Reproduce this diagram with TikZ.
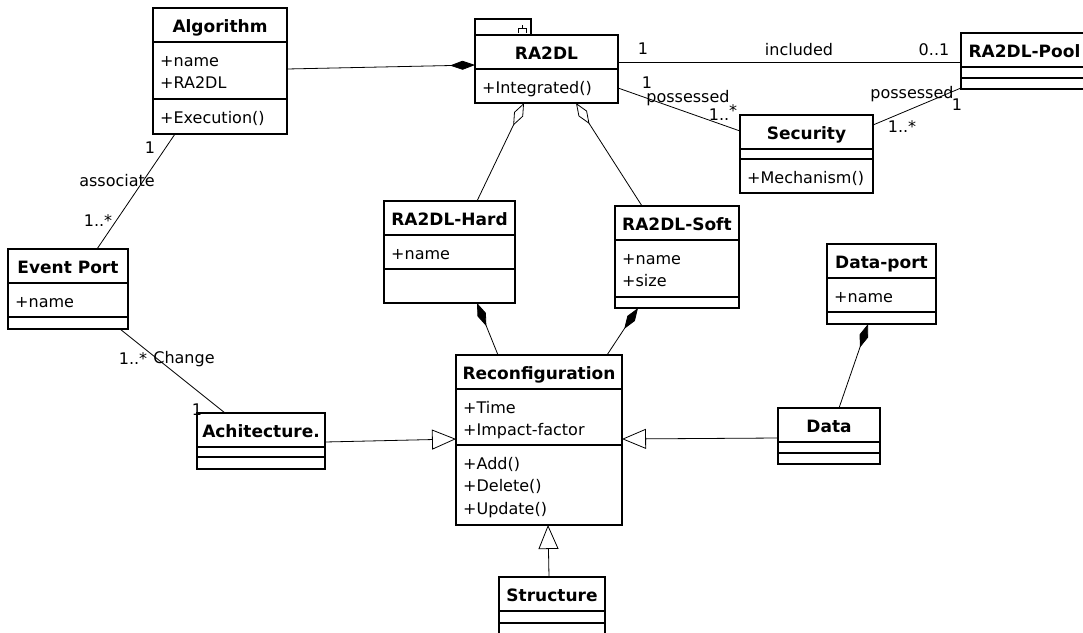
\documentclass[tikz,border=0pt]{standalone}
\usepackage{fontspec}
\setmainfont{DejaVu Sans}
\usetikzlibrary{calc,arrows.meta}
\tikzset{
  classbox/.style={draw, line width=1.1pt, rectangle, anchor=north west, inner sep=0pt, outer sep=0pt},
  classline/.style={line width=1.1pt},
  classtitle/.style={anchor=base, inner sep=0pt, font=\fontsize{17}{20}\selectfont\bfseries},
  classtext/.style={anchor=base west, inner sep=0pt, align=left, font=\fontsize{16}{22.5}\selectfont},
  conn/.style={line width=0.8pt},
  compo/.style={-{Diamond[length=25pt,width=9pt]}},
  aggr/.style={-{Diamond[open,length=25pt,width=10pt]}},
  gen/.style={-{Triangle[open,length=24pt,width=20pt]}},
  mult/.style={inner sep=0pt, font=\fontsize{16}{19}\selectfont},
}
\def\umlclass(#1)(#2)(#3:#4:#5)#6#7#8{%
  \node[classbox, minimum width=#3, minimum height={34+#4+#5}] (#1) at (#2) {};
  \draw[classline] ($(#1.north west)+(0,34)$) -- ($(#1.north east)+(0,34)$);
  \draw[classline] ($(#1.north west)+(0,34+#4)$) -- ($(#1.north east)+(0,34+#4)$);
  \node[classtitle] (#1-name) at ($(#1.north)+(0,24)$) {#6};
  \node[classtext, text width={#3-10}] (#1-attr) at ($(#1.north west)+(7,58)$) {#7};
  \node[classtext, text width={#3-10}] (#1-ops) at ($(#1.north west)+(7,58+#4)$) {#8};
}

\begin{document}
\begin{tikzpicture}[x=1pt, y=-1pt]
		%%%%% START %%%%%
		\useasboundingbox (0,0) rectangle (1083,632);
		
		\umlclass(alg)(153,8)(134:57:35){Algorithm}{+name\\+RA2DL}{+Execution()}
		\umlclass(ra2dl)(475,35)(143:34:0){RA2DL}{+Integrated()}{}
		\umlclass(pool)(961,33)(127:11:11){RA2DL-Pool}{}{}
		\umlclass(sec)(740,115)(133:10:34){Security}{}{+Mechanism()}
		
		\umlclass(evp)(8,249)(120:34:12){Event Port}{+name}{}
		\umlclass(hard)(384,201)(131:34:34){RA2DL-Hard}{+name}{}
		\umlclass(soft)(615,206)(124:57:11){RA2DL-Soft}{+name\\+size}{}
		\umlclass(dport)(827,244)(109:34:12){Data-port}{+name}{}
		
		\umlclass(arch)(197,413)(128:10:12){Achitecture.}{}{}
		\umlclass(reconf)(456,355)(166:56:80){Reconfiguration}{+Time\\+Impact-factor}{+Add()\\+Delete()\\+Update()}
		\umlclass(data)(778,408)(102:11:11){Data}{}{}
		\umlclass(struc)(499,577)(106:12:14){Structure}{}{}
		
		% tab on RA2DL
		\draw[classline] (ra2dl.north west) rectangle ($(ra2dl.north west)+(56,-16)$);
		\draw ($(ra2dl.north west)+(43,-2)$) -- ++(0,-5) -- ++(8,0) -- ++(0,5);
		\draw ($(ra2dl.north west)+(47,-7)$) -- ++(0,-3);
		
		% RA2DL and its parts
		\draw[conn, compo] ($(alg.north east)+(0,61)$) -- ($(ra2dl.north west)+(0,30)$);
		\draw[conn, aggr] ($(hard.north west)+(93,0)$) -- ($(ra2dl.south west)+(49,0)$);
		\draw[conn, aggr] ($(soft.north west)+(27,0)$) -- ($(ra2dl.south west)+(101,0)$);
		\draw[conn, compo] ($(reconf.north west)+(42,0)$) -- ($(hard.south west)+(93,0)$);
		\draw[conn, compo] ($(reconf.north west)+(151,0)$) -- ($(soft.south west)+(23,0)$);
		\draw[conn, compo] ($(data.north west)+(61,0)$) -- ($(dport.south west)+(41,0)$);
		
		% generalisations
		\draw[conn, gen] ($(arch.north east)+(0,29)$) -- ($(reconf.north west)+(0,84)$);
		\draw[conn, gen] ($(data.north west)+(0,30)$) -- ($(reconf.north east)+(0,84)$);
		\draw[conn, gen] ($(struc.north west)+(50,0)$) -- ($(reconf.south west)+(92,0)$);
		
		% associations
		\draw[conn] ($(ra2dl.north east)+(0,27)$) -- ($(pool.north west)+(0,29)$);
		\node[mult] (inc1) at (643,49) {1};
		\node[mult] (inc) at (799,50) {included};
		\node[mult] (inc2) at (934,50) {0..1};
		
		\draw[conn] ($(ra2dl.north east)+(0,53)$) -- ($(sec.north west)+(0,16)$);
		\node[mult] (pos1) at (647,83) {1};
		\node[mult] (pos) at (688,98) {possessed};
		\node[mult] (pos2) at (723,113) {1..\raisebox{4pt}{*}};
		
		\draw[conn] ($(sec.north east)+(0,10)$) -- ($(pool.north west)+(0,55)$);
		\node[mult] (pss) at (912,94) {possessed};
		\node[mult] (pss1) at (957,105) {1};
		\node[mult] (pss2) at (902,127) {1..*};
		
		\draw[conn] ($(alg.south west)+(22,0)$) -- ($(evp.north west)+(89,0)$);
		\node[mult] (asc1) at (150,148) {1};
		\node[mult] (asc) at (117,181) {associate};
		\node[mult] (asc2) at (98,221) {1..*};
		
		\draw[conn] ($(evp.south east)+(-8,0)$) -- ($(arch.north west)+(28,0)$);
		\node[mult] (chg2) at (133,359) {1..*};
		\node[mult] (chg) at (184,359) {Change};
		\node[mult] (chg1) at (197,410) {1};
		
		%%%%% END %%%%%
\end{tikzpicture}
\end{document}
